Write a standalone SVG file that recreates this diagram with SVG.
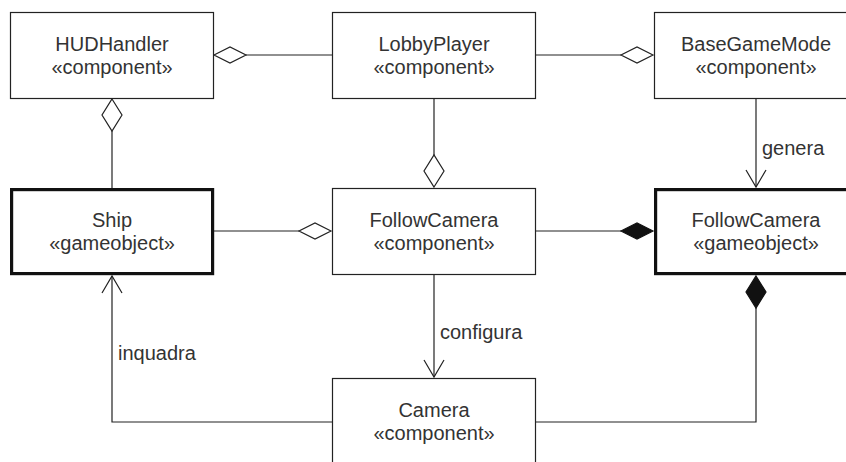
<svg xmlns="http://www.w3.org/2000/svg" width="846" height="462" viewBox="0 0 846 462">
<style>
.box{fill:#fff;stroke:#222;stroke-width:1.2}
.obj{fill:#fff;stroke:#111;stroke-width:3.2}
.t{font-family:"Liberation Sans",Arial,sans-serif;font-size:20px;fill:#333;text-anchor:middle}
.lbl{font-family:"Liberation Sans",Arial,sans-serif;font-size:20px;fill:#333}
.ln{fill:none;stroke:#222;stroke-width:1.2}
.od{fill:#fff;stroke:#222;stroke-width:1.2}
.fd{fill:#111;stroke:#111;stroke-width:1.2}
</style>
<rect width="846" height="462" fill="#fff"/>
<g id="connectors">
<!-- HUDHandler o— LobbyPlayer -->
<line class="ln" x1="246" y1="55" x2="332" y2="55"/>
<polygon class="od" points="214,55 230,47 246,55 230,63"/>
<!-- HUDHandler o— Ship -->
<line class="ln" x1="112" y1="131" x2="112" y2="188"/>
<polygon class="od" points="112,99 122,115 112,131 102,115"/>
<!-- LobbyPlayer —o BaseGameMode -->
<line class="ln" x1="536" y1="55" x2="621" y2="55"/>
<polygon class="od" points="653,55 637,47 621,55 637,63"/>
<!-- LobbyPlayer —o FollowCamera component -->
<line class="ln" x1="434" y1="98" x2="434" y2="155"/>
<polygon class="od" points="434,187 444,171 434,155 424,171"/>
<!-- Ship —o FollowCamera component -->
<line class="ln" x1="214" y1="231" x2="299" y2="231"/>
<polygon class="od" points="331,231 315,223 299,231 315,239"/>
<!-- FollowCamera component —◆ FollowCamera gameobject -->
<line class="ln" x1="536" y1="231" x2="621" y2="231"/>
<polygon class="fd" points="653,231 637,223 621,231 637,239"/>
<!-- BaseGameMode genera -> FollowCamera gameobject -->
<line class="ln" x1="756" y1="98" x2="756" y2="187"/>
<polyline class="ln" points="746,170 756,187 766,170"/>
<text class="lbl" x="762" y="155">genera</text>
<!-- FollowCamera component configura -> Camera -->
<line class="ln" x1="434" y1="274" x2="434" y2="377"/>
<polyline class="ln" points="424,360 434,377 444,360"/>
<text class="lbl" x="440" y="339">configura</text>
<!-- Camera inquadra -> Ship -->
<polyline class="ln" points="332,422 112,422 112,276"/>
<polyline class="ln" points="102,293 112,276 122,293"/>
<text class="lbl" x="118" y="360">inquadra</text>
<!-- FollowCamera gameobject ◆— Camera -->
<polyline class="ln" points="756,308 756,422 536,422"/>
<polygon class="fd" points="756,276 766,292 756,308 746,292"/>
</g>
<g id="HUDHandler">
<rect class="box" x="10.5" y="12.5" width="203" height="86"/>
<text class="t" x="112" y="51">HUDHandler</text>
<text class="t" x="112" y="74">«component»</text>
</g>
<g id="LobbyPlayer">
<rect class="box" x="332.5" y="12.5" width="203" height="86"/>
<text class="t" x="434" y="51">LobbyPlayer</text>
<text class="t" x="434" y="74">«component»</text>
</g>
<g id="BaseGameMode">
<rect class="box" x="654.5" y="12.5" width="203" height="86"/>
<text class="t" x="756" y="51">BaseGameMode</text>
<text class="t" x="756" y="74">«component»</text>
</g>
<g id="Ship">
<rect class="obj" x="11.6" y="189.6" width="201" height="84"/>
<text class="t" x="112" y="227">Ship</text>
<text class="t" x="112" y="250">«gameobject»</text>
</g>
<g id="FollowCameraComponent">
<rect class="box" x="332.5" y="188.5" width="203" height="86"/>
<text class="t" x="434" y="227">FollowCamera</text>
<text class="t" x="434" y="250">«component»</text>
</g>
<g id="FollowCameraGameobject">
<rect class="obj" x="655.6" y="189.6" width="201" height="84"/>
<text class="t" x="756" y="227">FollowCamera</text>
<text class="t" x="756" y="250">«gameobject»</text>
</g>
<g id="Camera">
<rect class="box" x="332.5" y="378.5" width="203" height="86"/>
<text class="t" x="434" y="417">Camera</text>
<text class="t" x="434" y="440">«component»</text>
</g>
</svg>
